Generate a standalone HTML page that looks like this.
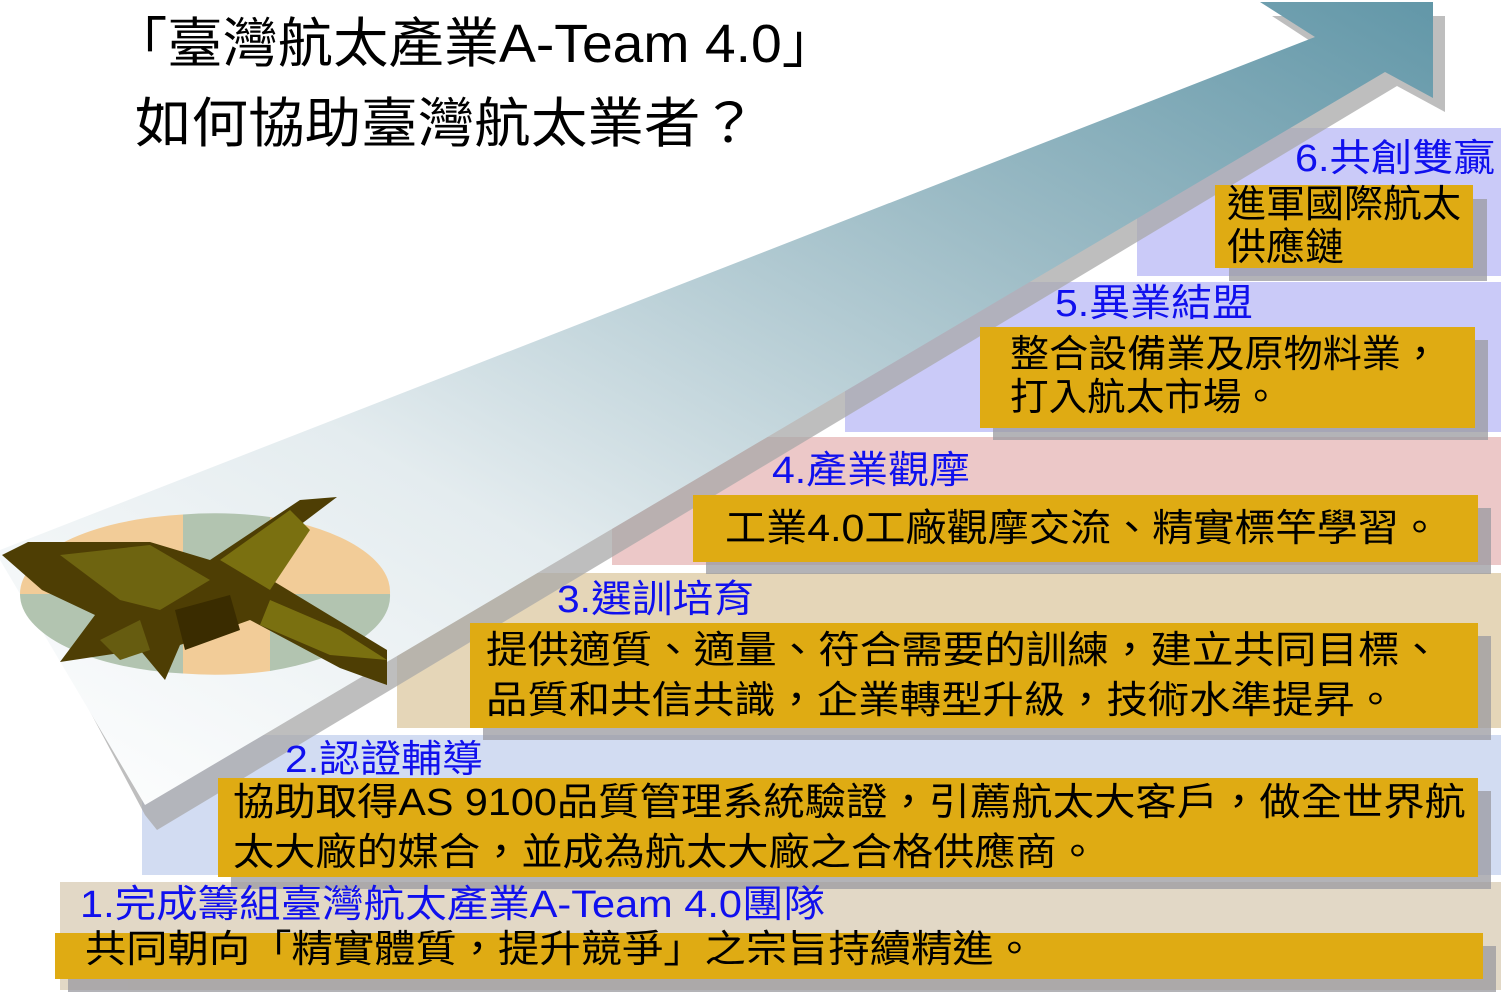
<!DOCTYPE html>
<html><head><meta charset="utf-8"><style>
html,body{margin:0;padding:0;background:#fff;}
svg{display:block;}
text{font-family:"Liberation Sans","Noto Sans CJK TC",sans-serif;}
.b{fill:#1010ee;font-size:38px;}
.t{fill:#000;font-size:38px;}
</style></head><body>
<svg width="1511" height="993" viewBox="0 0 1511 993" xmlns="http://www.w3.org/2000/svg">
<defs>
<linearGradient id="ag" x1="0" y1="1" x2="1" y2="0">
<stop offset="0" stop-color="#ffffff"/>
<stop offset="0.35" stop-color="#e4ecef"/>
<stop offset="0.7" stop-color="#9dbcc6"/>
<stop offset="1" stop-color="#6297a8"/>
</linearGradient>
</defs>
<rect x="1137" y="128" width="364" height="148" fill="#cacaf8"/>
<rect x="845" y="282" width="656" height="150" fill="#cacaf8"/>
<rect x="612" y="437" width="889" height="128" fill="#ecc8c8"/>
<rect x="397" y="573" width="1104" height="155" fill="#e5d6b8"/>
<rect x="142" y="735" width="1359" height="140" fill="#d2dcf2"/>
<rect x="60" y="882" width="1441" height="108" fill="#e2d8c6"/>
<polygon points="12,565 1327,52 1272,16 1445,16 1445,112 1397,86 157,830 145,815" fill="#a8a8a8" opacity="0.75"/>
<polygon points="0,550 1315,37 1260,2 1433,2 1433,98 1385,72 145,805 0,560" fill="url(#ag)"/>
<path d="M205,594 L20,594 A185,80 0 0 1 183,514.5 L183,594Z" fill="#f2cc98"/>
<path d="M183,594 L183,514.5 A185,80 0 0 1 270,517 L270,594Z" fill="#b2c4b0"/>
<path d="M270,594 L270,517 A185,80 0 0 1 390,594Z" fill="#f2cc98"/>
<path d="M20,594 L183,594 L183,673.5 A185,80 0 0 1 20,594Z" fill="#b2c4b0"/>
<path d="M183,594 L270,594 L270,671 A185,80 0 0 1 183,673.5Z" fill="#f2cc98"/>
<path d="M270,594 L390,594 A185,80 0 0 1 270,671Z" fill="#b2c4b0"/>
<g>
<polygon points="2,555 28,542 150,542 210,560 300,500 337,497 300,525 280,560 255,570 387,650 387,685 340,668 250,620 180,645 165,680 140,650 60,662 95,615 42,590" fill="#4e3e04"/>
<polygon points="60,555 150,545 210,580 160,610 120,600" fill="#6e6410"/>
<polygon points="220,560 290,510 310,530 270,590" fill="#7a7010"/>
<polygon points="270,600 340,630 387,660 330,655 260,625" fill="#7a7010"/>
<polygon points="175,610 230,595 240,630 185,650" fill="#3a2c00"/>
<polygon points="100,640 140,620 150,650 120,660" fill="#665c10"/>
</g>
<text x="112" y="62" font-size="54" fill="#000" textLength="725" lengthAdjust="spacingAndGlyphs">「臺灣航太產業A-Team 4.0」</text>
<text x="135" y="142" font-size="54" fill="#000" textLength="622" lengthAdjust="spacingAndGlyphs">如何協助臺灣航太業者？</text>
<g fill="#9a9aa0" opacity="0.75">
<rect x="1229" y="199" width="258" height="82"/>
<rect x="993" y="340" width="495" height="100"/>
<rect x="706" y="508" width="785" height="66"/>
<rect x="483" y="636" width="1008" height="104"/>
<rect x="231" y="791" width="1260" height="98"/>
<rect x="68" y="946" width="1428" height="46"/>
</g>
<g fill="#dfab13">
<rect x="1215" y="185" width="258" height="83"/>
<rect x="980" y="327" width="495" height="101"/>
<rect x="693" y="495" width="785" height="67"/>
<rect x="470" y="623" width="1008" height="105"/>
<rect x="218" y="778" width="1260" height="99"/>
<rect x="55" y="933" width="1428" height="46"/>
</g>
<text class="b" x="1295" y="171" textLength="200" lengthAdjust="spacingAndGlyphs">6.共創雙贏</text>
<text class="b" x="1055" y="316" textLength="198" lengthAdjust="spacingAndGlyphs">5.異業結盟</text>
<text class="b" x="772" y="483" textLength="198" lengthAdjust="spacingAndGlyphs">4.產業觀摩</text>
<text class="b" x="557" y="612" textLength="197" lengthAdjust="spacingAndGlyphs">3.選訓培育</text>
<text class="b" x="285" y="772" textLength="198" lengthAdjust="spacingAndGlyphs">2.認證輔導</text>
<text class="b" x="80" y="917" textLength="745" lengthAdjust="spacingAndGlyphs">1.完成籌組臺灣航太產業A-Team 4.0團隊</text>
<text class="t" x="1227" y="217" textLength="234" lengthAdjust="spacingAndGlyphs">進軍國際航太</text>
<text class="t" x="1227" y="260" textLength="117" lengthAdjust="spacingAndGlyphs">供應鏈</text>
<text class="t" x="1010" y="367" textLength="430" lengthAdjust="spacingAndGlyphs">整合設備業及原物料業，</text>
<text class="t" x="1010" y="410" textLength="270" lengthAdjust="spacingAndGlyphs">打入航太市場。</text>
<text class="t" x="725" y="541" textLength="715" lengthAdjust="spacingAndGlyphs">工業4.0工廠觀摩交流、精實標竿學習。</text>
<text class="t" x="486" y="663" textLength="955" lengthAdjust="spacingAndGlyphs">提供適質、適量、符合需要的訓練，建立共同目標、</text>
<text class="t" x="486" y="713" textLength="910" lengthAdjust="spacingAndGlyphs">品質和共信共識，企業轉型升級，技術水準提昇。</text>
<text class="t" x="233" y="815" textLength="1233" lengthAdjust="spacingAndGlyphs">協助取得AS 9100品質管理系統驗證，引薦航太大客戶，做全世界航</text>
<text class="t" x="233" y="865" textLength="865" lengthAdjust="spacingAndGlyphs">太大廠的媒合，並成為航太大廠之合格供應商。</text>
<text class="t" x="85" y="962" textLength="950" lengthAdjust="spacingAndGlyphs">共同朝向「精實體質，提升競爭」之宗旨持續精進。</text>
</svg>
</body></html>
